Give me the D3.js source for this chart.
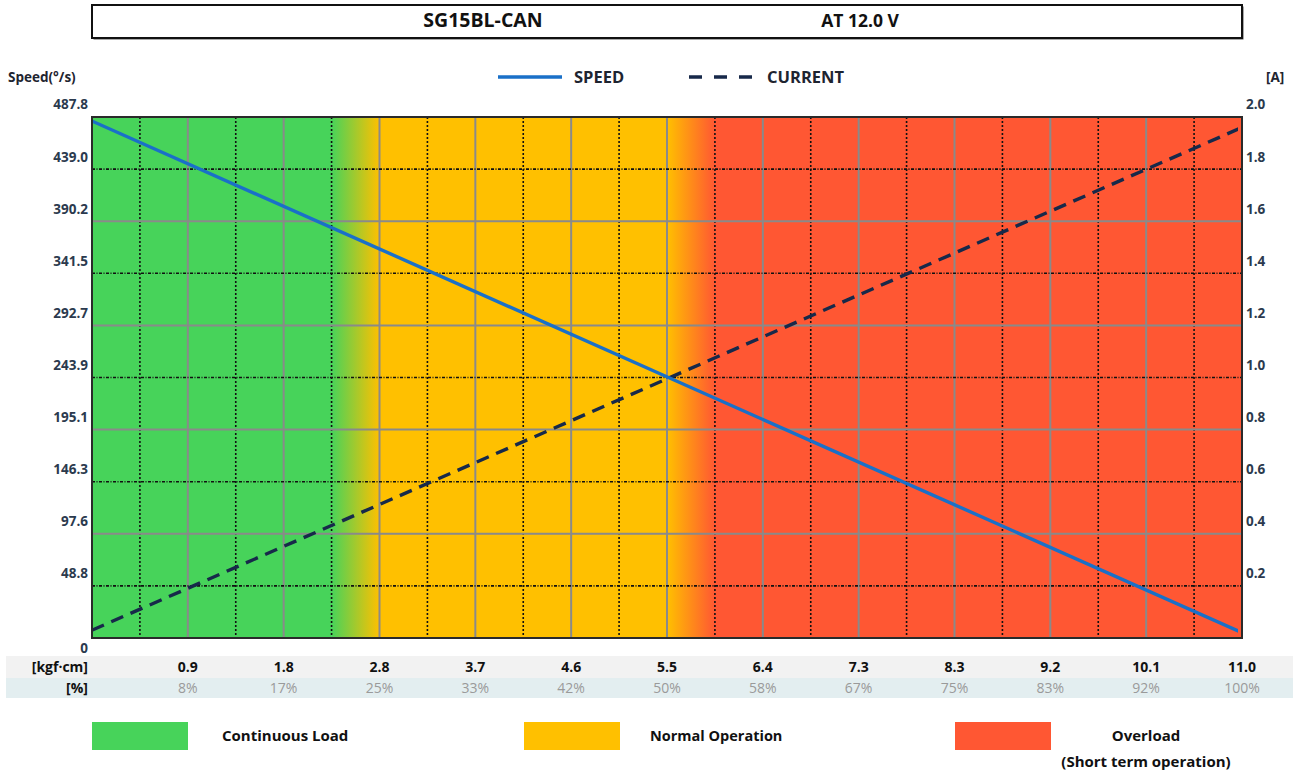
<!DOCTYPE html>
<html><head><meta charset="utf-8">
<script src="https://cdn.jsdelivr.net/npm/d3@7"></script>
<style>
html,body{margin:0;padding:0;background:#fff;}
svg{display:block;font-family:"Open Sans","Noto Sans",sans-serif;}
</style></head><body>
<svg id="c" width="1303" height="775"></svg>
<script>
// ---- data ----
const titleModel = "SG15BL-CAN";
const titleVolt = "AT 12.0 V";
const torqueMax = 11.0;
const speedMax = 487.8;
const currentMax = 2.0;
const torquePts = [0, 11.0];
const speedPts = [484, 5];
const currentPts = [0.03, 1.96];
const speedTicks = [0, 48.8, 97.6, 146.3, 195.1, 243.9, 292.7, 341.5, 390.2, 439.0, 487.8];
const currentTicks = [0.2, 0.4, 0.6, 0.8, 1.0, 1.2, 1.4, 1.6, 1.8, 2.0];
const torqueLabels = ["0.9","1.8","2.8","3.7","4.6","5.5","6.4","7.3","8.3","9.2","10.1","11.0"];
const pctLabels = ["8%","17%","25%","33%","42%","50%","58%","67%","75%","83%","92%","100%"];
// zone boundaries in torque units
const zoneBounds = [0, 2.29, 2.75, 5.5, 5.96, 11.0];
const zoneColors = ["#47d35a", "#ffc000", "#ff5733"];
const legendItems = [["Continuous Load"], ["Normal Operation"], ["Overload", "(Short term operation)"]];

// ---- layout ----
const L = 92, R = 1242, T = 117, B = 638;
const svg = d3.select("#c");
const x = d3.scaleLinear().domain([0, torqueMax]).range([L, R]);
const yS = d3.scaleLinear().domain([0, speedMax]).range([B, T]);
const yC = d3.scaleLinear().domain([0, currentMax]).range([B, T]);
const textCol = "#2b3a4e";

// title box
svg.append("rect").attr("x", L + 1.5).attr("y", 6.5).attr("width", R - L).attr("height", 33).attr("fill", "#555");
svg.append("rect").attr("x", L).attr("y", 5).attr("width", R - L).attr("height", 33)
  .attr("fill", "#fff").attr("stroke", "#111").attr("stroke-width", 2);
svg.append("text").attr("x", 483).attr("y", 27).attr("text-anchor", "middle")
  .attr("font-size", 19.5).attr("font-weight", "bold").attr("fill", "#111").text(titleModel);
svg.append("text").attr("x", 860).attr("y", 27).attr("text-anchor", "middle")
  .attr("font-size", 17.5).attr("font-weight", "bold").attr("fill", "#111").text(titleVolt);

// zones
const defs = svg.append("defs");
function grad(id, c1, c2, x1, x2) {
  const g = defs.append("linearGradient").attr("id", id).attr("gradientUnits", "userSpaceOnUse")
    .attr("x1", x1).attr("x2", x2).attr("y1", 0).attr("y2", 0);
  g.append("stop").attr("offset", 0).attr("stop-color", c1);
  g.append("stop").attr("offset", 1).attr("stop-color", c2);
}
grad("g1", zoneColors[0], zoneColors[1], x(zoneBounds[1]), x(zoneBounds[2]));
grad("g2", zoneColors[1], zoneColors[2], x(zoneBounds[3]), x(zoneBounds[4]));
const fills = [zoneColors[0], "url(#g1)", zoneColors[1], "url(#g2)", zoneColors[2]];
for (let i = 0; i < 5; i++) {
  svg.append("rect").attr("x", x(zoneBounds[i])).attr("y", T)
    .attr("width", x(zoneBounds[i + 1]) - x(zoneBounds[i]) + 0.5).attr("height", B - T)
    .attr("fill", fills[i]);
}

// grid
const nV = 24;
for (let i = 1; i < nV; i++) {
  const xv = x(torqueMax * i / nV);
  const ln = svg.append("line").attr("x1", xv).attr("x2", xv).attr("y1", T).attr("y2", B);
  if (i % 2) ln.attr("stroke", "#111").attr("stroke-width", 1.6).attr("stroke-dasharray", "2,2");
  else ln.attr("stroke", "#8a8a8a").attr("stroke-width", 2);
}
speedTicks.forEach((v, j) => {
  if (j === 0 || j === speedTicks.length - 1) return;
  const yv = yS(speedMax * j / 10);
  const ln = svg.append("line").attr("x1", L).attr("x2", R).attr("y1", yv).attr("y2", yv);
  if (j % 2) ln.attr("stroke", "#111").attr("stroke-width", 1.6).attr("stroke-dasharray", "3,1.5,1,1.5");
  else ln.attr("stroke", "#8a8a8a").attr("stroke-width", 2);
});

// lines
const speedData = torquePts.map((t, i) => [t, speedPts[i]]);
const curData = torquePts.map((t, i) => [t, currentPts[i]]);
svg.append("defs").append("clipPath").attr("id", "clip").append("rect")
  .attr("x", L + 1).attr("y", T + 1).attr("width", R - L - 5).attr("height", B - T - 2);
const pl = svg.append("g").attr("clip-path", "url(#clip)");
pl.append("path").datum(curData)
  .attr("d", d3.line().x(d => x(d[0])).y(d => yC(d[1])))
  .attr("fill", "none").attr("stroke", "#17294a").attr("stroke-width", 3.4).attr("stroke-dasharray", "13,8");
pl.append("path").datum(speedData)
  .attr("d", d3.line().x(d => x(d[0])).y(d => yS(d[1])))
  .attr("fill", "none").attr("stroke", "#1a70c8").attr("stroke-width", 3.4);

// border
svg.append("rect").attr("x", L).attr("y", T).attr("width", R - L).attr("height", B - T)
  .attr("fill", "none").attr("stroke", "#2a2a2a").attr("stroke-width", 2);

// left axis
const axL = svg.append("g").attr("transform", `translate(${L - 2},0)`)
  .call(d3.axisLeft(yS).tickValues(speedTicks).tickSize(0).tickPadding(2)
    .tickFormat(d => d === 0 ? "0" : d3.format(".1f")(d)));
axL.select(".domain").remove();
axL.selectAll("text").attr("font-size", 13.5).attr("font-weight", "bold").attr("fill", textCol)
  .attr("font-family", "Open Sans, sans-serif")
  .attr("dy", d => d === 0 ? "1.1em" : "-0.6em");

// right axis
const axR = svg.append("g").attr("transform", `translate(${R + 2},0)`)
  .call(d3.axisRight(yC).tickValues(currentTicks).tickSize(0).tickPadding(2)
    .tickFormat(d3.format(".1f")));
axR.select(".domain").remove();
axR.selectAll("text").attr("font-size", 13.5).attr("font-weight", "bold").attr("fill", textCol)
  .attr("font-family", "Open Sans, sans-serif").attr("dy", "-0.6em");

svg.append("text").attr("x", 8).attr("y", 82).attr("font-size", 13.5).attr("font-weight", "bold")
  .attr("fill", "#1e2430").text("Speed(°/s)");
svg.append("text").attr("x", 1266).attr("y", 82).attr("font-size", 13.5).attr("font-weight", "bold")
  .attr("fill", "#1e2430").text("[A]");

// top legend
svg.append("line").attr("x1", 498).attr("x2", 562).attr("y1", 77).attr("y2", 77)
  .attr("stroke", "#1a70c8").attr("stroke-width", 3.4);
svg.append("text").attr("x", 574).attr("y", 83).attr("font-size", 16.5).attr("font-weight", "bold")
  .attr("fill", "#1e2430").text("SPEED");
svg.append("line").attr("x1", 689).attr("x2", 752).attr("y1", 77).attr("y2", 77)
  .attr("stroke", "#17294a").attr("stroke-width", 3.4).attr("stroke-dasharray", "13,12");
svg.append("text").attr("x", 767).attr("y", 83).attr("font-size", 16.5).attr("font-weight", "bold")
  .attr("fill", "#1e2430").text("CURRENT");

// bottom table rows
svg.append("rect").attr("x", 6).attr("y", 656).attr("width", 1287).attr("height", 22).attr("fill", "#f2f2f2");
svg.append("rect").attr("x", 6).attr("y", 678).attr("width", 1287).attr("height", 20).attr("fill", "#e3eef0");
svg.append("text").attr("x", 88).attr("y", 672).attr("text-anchor", "end").attr("font-size", 14)
  .attr("font-weight", "bold").attr("fill", "#111").text("[kgf·cm]");
svg.append("text").attr("x", 88).attr("y", 693).attr("text-anchor", "end").attr("font-size", 14)
  .attr("font-weight", "bold").attr("fill", "#111").text("[%]");
torqueLabels.forEach((t, i) => {
  const xv = x(torqueMax * (i + 1) / torqueLabels.length);
  svg.append("text").attr("x", xv).attr("y", 672).attr("text-anchor", "middle").attr("font-size", 14)
    .attr("font-weight", "bold").attr("fill", "#111").text(t);
  svg.append("text").attr("x", xv).attr("y", 693).attr("text-anchor", "middle").attr("font-size", 14)
    .attr("fill", "#9a9a9a").text(pctLabels[i]);
});

// bottom legend
const legX = [92, 524, 955];
const legTextX = [222, 650, 1146];
legendItems.forEach((it, i) => {
  svg.append("rect").attr("x", legX[i]).attr("y", 722).attr("width", 96).attr("height", 28).attr("fill", zoneColors[i]);
  it.forEach((s, k) => {
    svg.append("text").attr("x", legTextX[i]).attr("y", 741 + k * 26)
      .attr("text-anchor", i === 2 ? "middle" : "start")
      .attr("font-size", i === 1 ? 14.5 : 15).attr("font-weight", "bold").attr("fill", "#111").text(s);
  });
});
</script></body></html>
